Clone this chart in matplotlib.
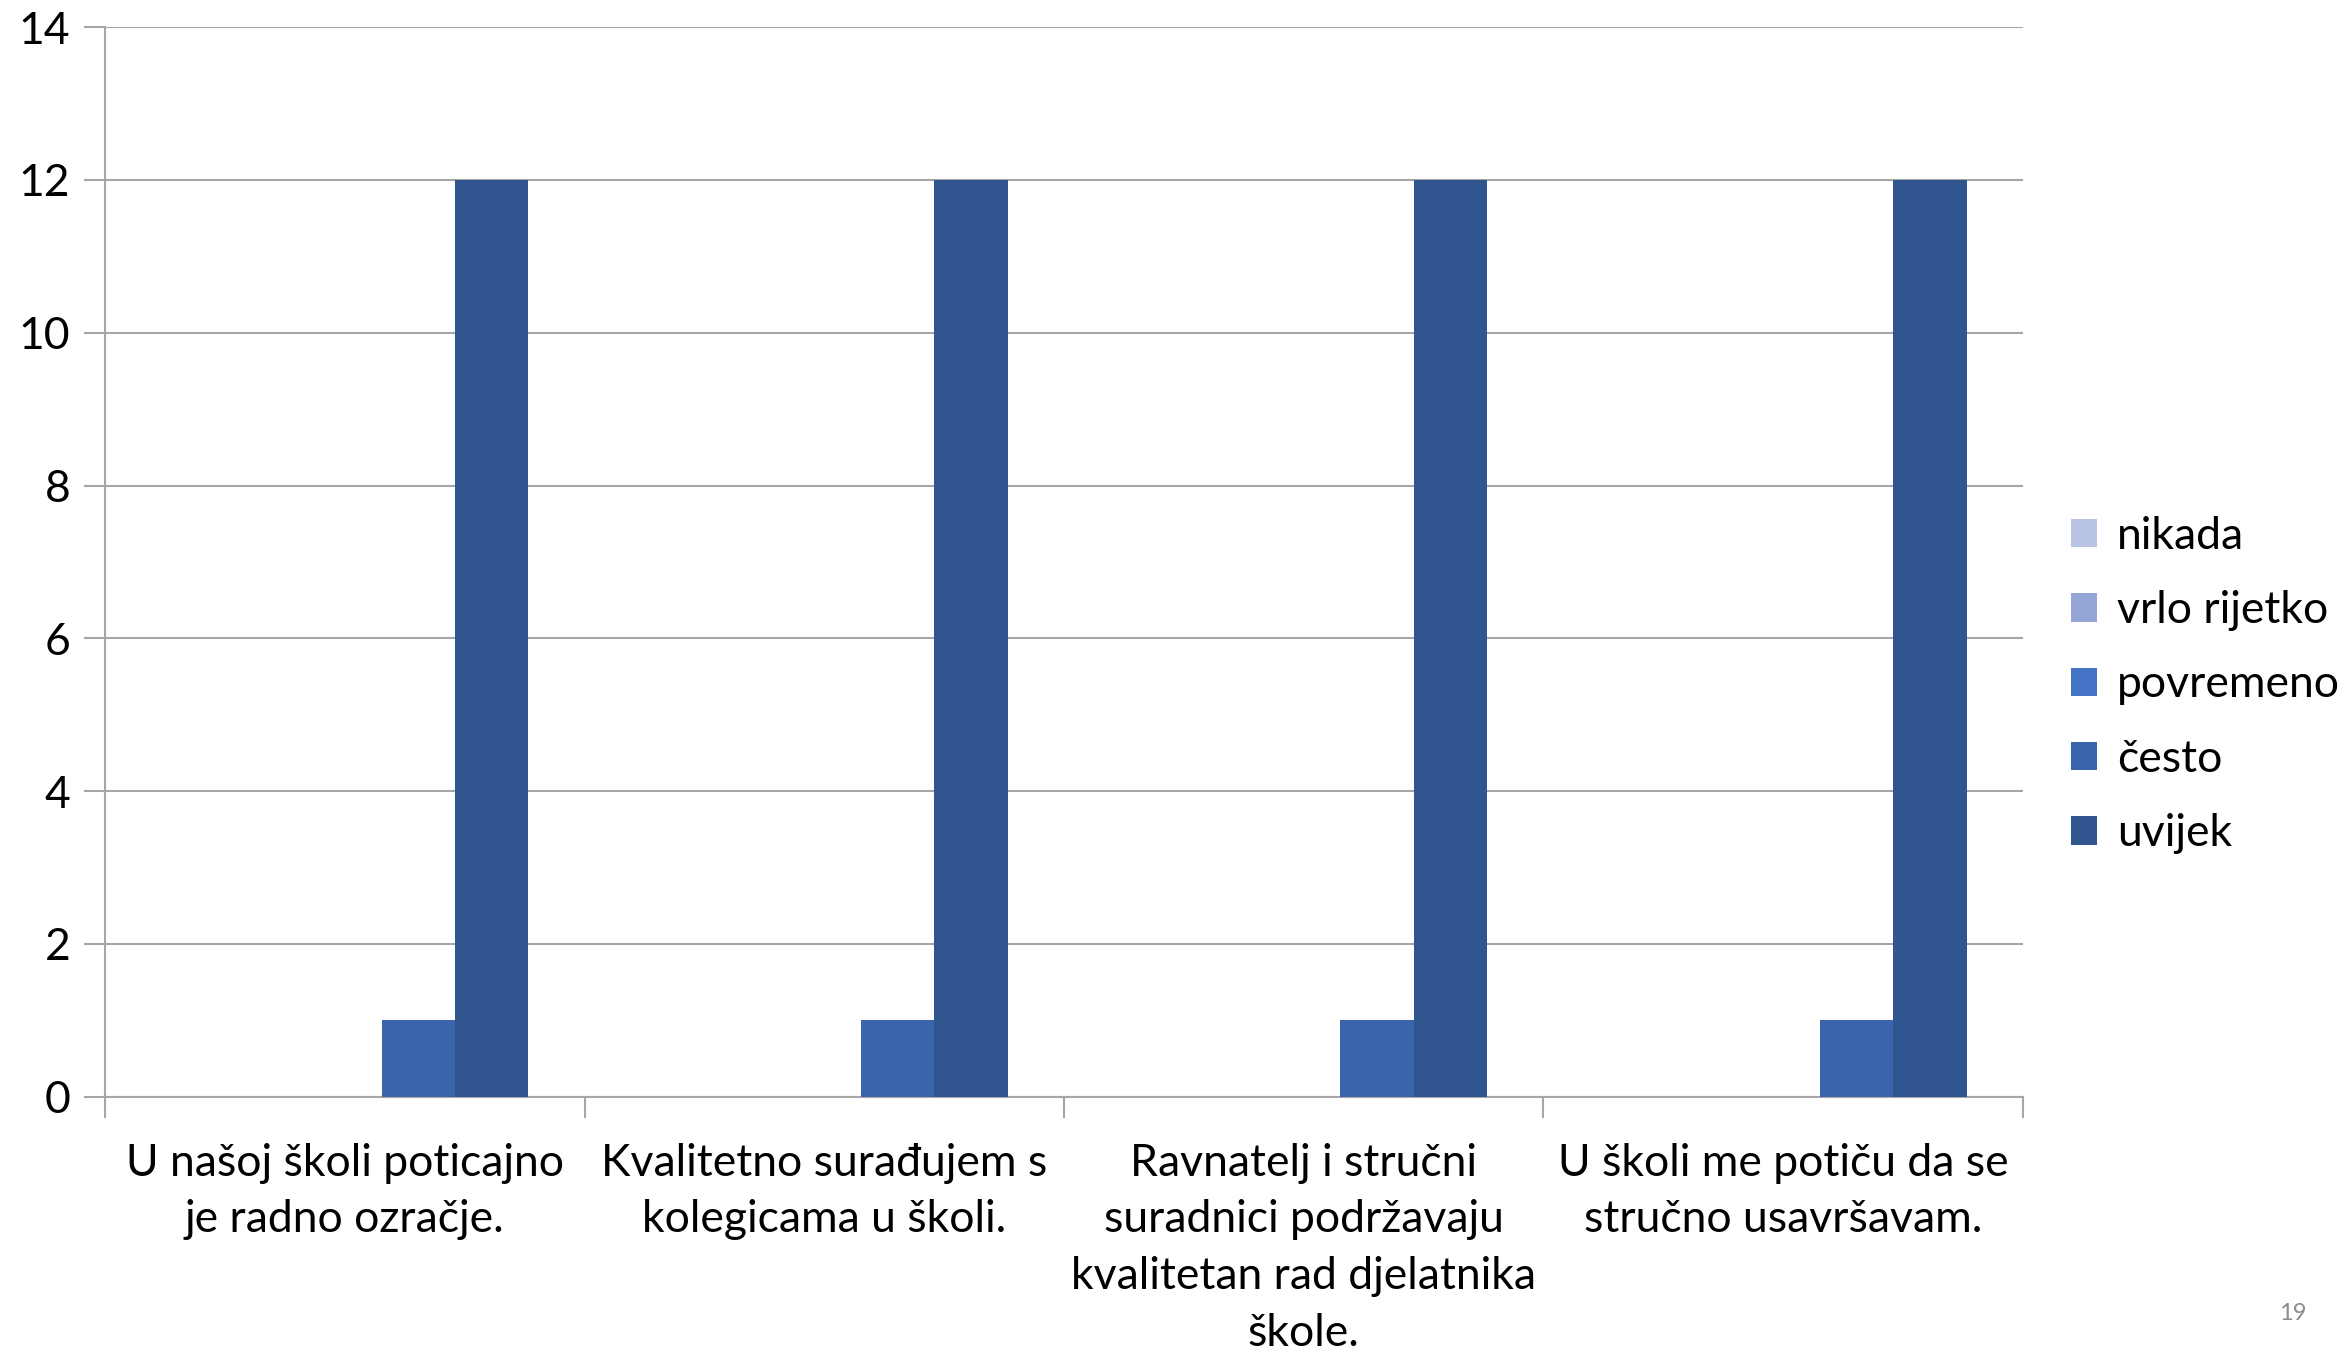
import matplotlib
matplotlib.use("Agg")
import matplotlib.pyplot as plt
import numpy as np

categories = [
    "U našoj školi poticajno\nje radno ozračje.",
    "Kvalitetno surađujem s\nkolegicama u školi.",
    "Ravnatelj i stručni\nsuradnici podržavaju\nkvalitetan rad djelatnika\nškole.",
    "U školi me potiču da se\nstručno usavršavam.",
]
series_names = ["nikada", "vrlo rijetko", "povremeno", "često", "uvijek"]
nikada = [0, 0, 0, 0]
vrlo_rijetko = [0, 0, 0, 0]
povremeno = [0, 0, 0, 0]
cesto = [1, 1, 1, 1]
uvijek = [12, 12, 12, 12]
series_values = [nikada, vrlo_rijetko, povremeno, cesto, uvijek]
colors = ["#B9C3E3", "#94A6D5", "#4472C4", "#3C64AD", "#31558F"]
y_ticks = [0, 2, 4, 6, 8, 10, 12, 14]

plt.rcParams["font.family"] = ["Lato", "DejaVu Sans"]

fig = plt.figure(figsize=(23.46, 13.54), dpi=100)
ax = fig.add_axes([0.0448, 0.19, 0.8175, 0.79])

x = np.arange(len(categories))
bar_w = 0.153
n = len(series_names)
for i, (name, vals, col) in enumerate(zip(series_names, series_values, colors)):
    offs = (i - (n - 1) / 2) * bar_w
    ax.bar(x + offs, vals, width=bar_w, color=col, label=name, zorder=3)

ax.set_xlim(-0.5, len(categories) - 0.5)
ax.set_ylim(0, 14)
ax.set_yticks(y_ticks)
ax.yaxis.grid(True, color="#A6A6A6", linewidth=1.5, zorder=0)
ax.set_axisbelow(True)

ax.set_xticks(x)
ax.set_xticklabels(categories, fontsize=32, linespacing=1.48)
ax.tick_params(axis="x", length=0, pad=33)
ax.set_xticks(np.arange(-0.5, len(categories)), minor=True)
ax.tick_params(axis="x", which="minor", length=15, width=1.5, color="#A6A6A6")
ax.tick_params(axis="y", labelsize=32, length=15, width=1.5, color="#A6A6A6", pad=10)

for s in ["top", "right"]:
    ax.spines[s].set_visible(False)
for s in ["left", "bottom"]:
    ax.spines[s].set_color("#A6A6A6")
    ax.spines[s].set_linewidth(1.5)

leg = ax.legend(loc="center left", bbox_to_anchor=(1.004, 0.385), frameon=False,
                fontsize=32, handlelength=0.6, handleheight=0.6, handletextpad=0.45,
                labelspacing=0.75)

fig.text(0.983, 0.03, "19", fontsize=17, color="#8C8C8C", ha="right", va="center")

fig.savefig("out.png", dpi=100)
